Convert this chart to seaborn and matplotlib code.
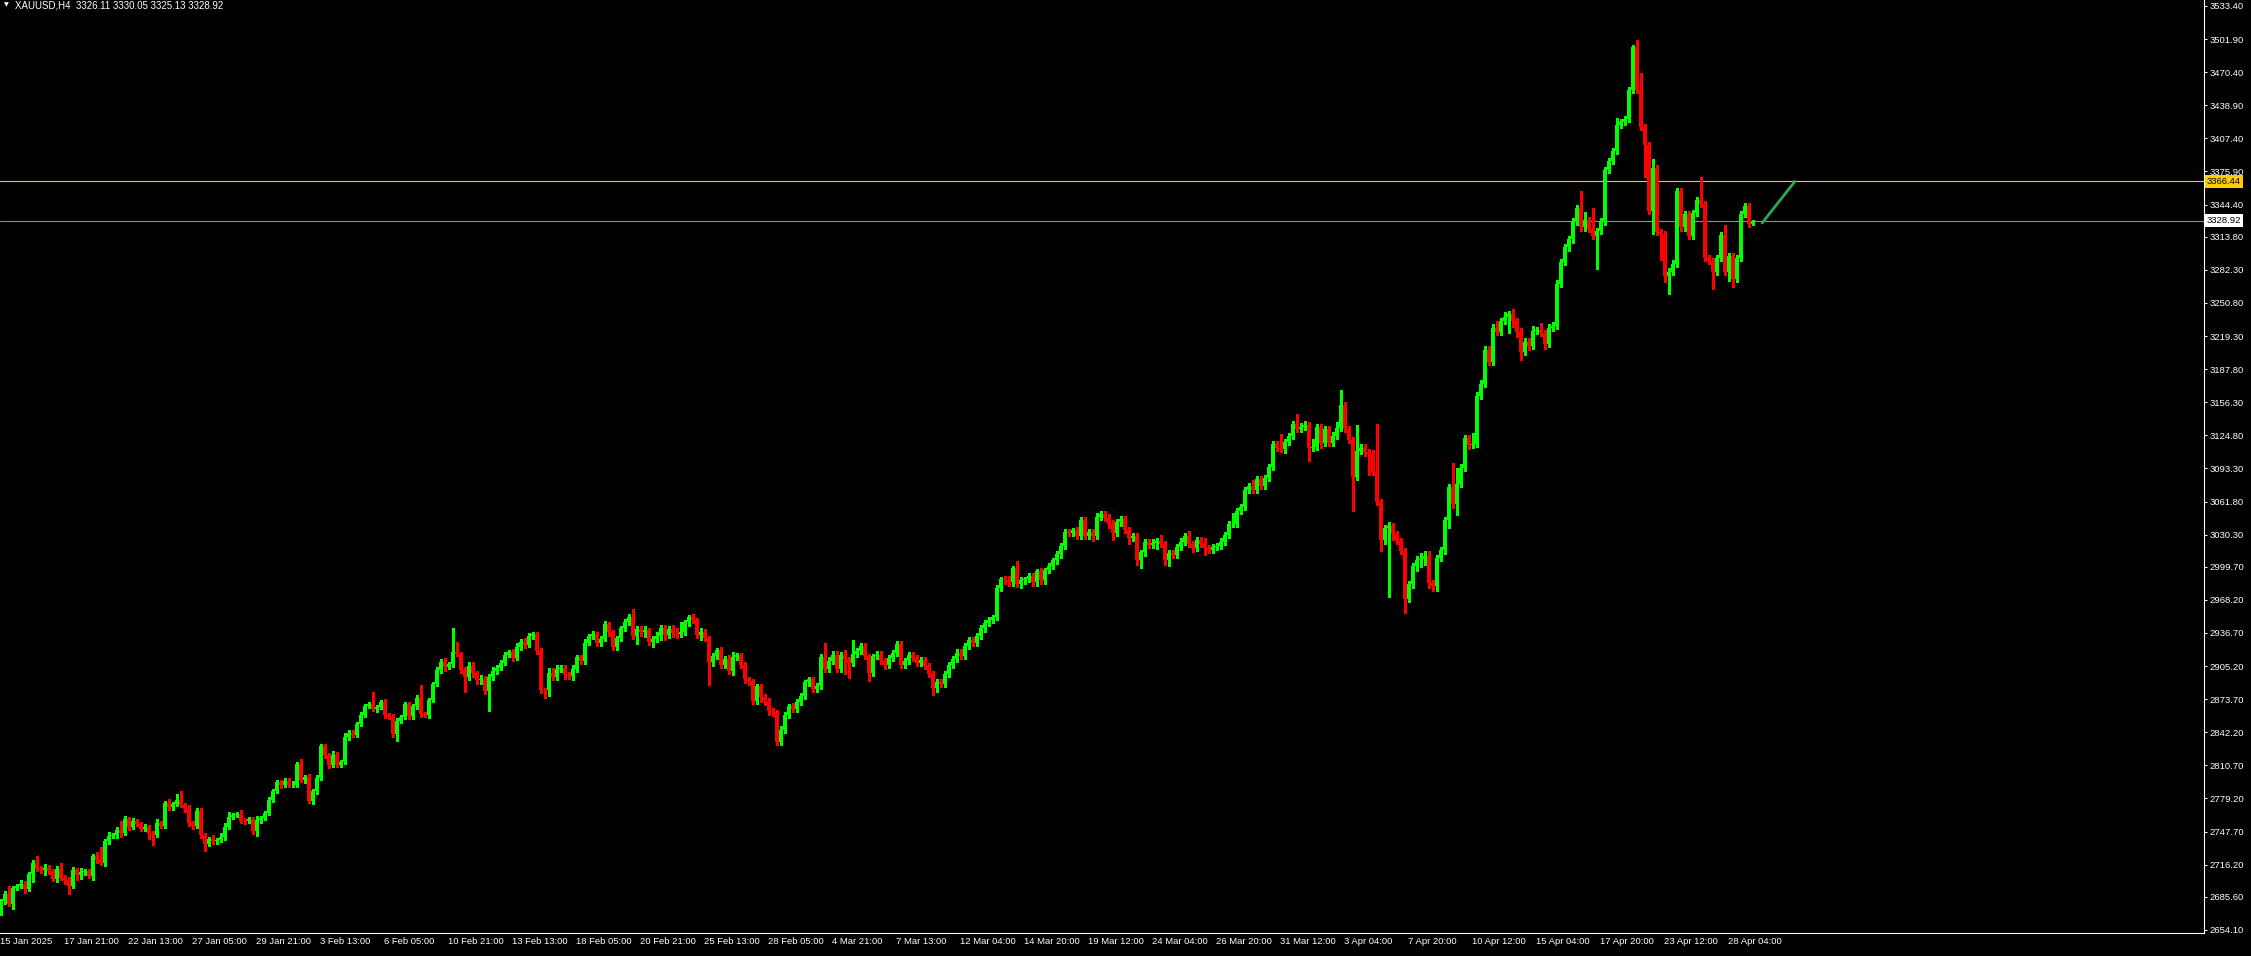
import numpy as np
import pandas as pd
import matplotlib.pyplot as plt
import seaborn as sns

# XAUUSD H4 candles (one value per bar, left to right)
symbol = "XAUUSD,H4"
last_ohlc = [3326.11, 3330.05, 3325.13, 3328.92]
first_open = 2670.9

closes = [
    2682.0, 2688.3, 2678.8, 2694.0, 2695.9, 2697.9, 2692.8, 2707.4, 2718.2, 2712.5,
    2711.0, 2713.5, 2710.0, 2702.6, 2711.8, 2704.0, 2701.7, 2696.0, 2711.0, 2706.8,
    2709.7, 2710.0, 2705.5, 2724.5, 2720.7, 2718.0, 2738.5, 2743.9, 2744.8, 2749.0,
    2746.0, 2759.4, 2752.5, 2757.5, 2755.0, 2750.5, 2752.0, 2745.5, 2744.8, 2755.6,
    2753.0, 2774.7, 2770.9, 2773.9, 2778.2, 2772.8, 2769.6, 2755.6, 2753.1, 2767.7,
    2744.8, 2735.9, 2740.4, 2738.5, 2739.8, 2742.9, 2752.5, 2762.0, 2763.3, 2764.2,
    2758.2, 2757.5, 2759.4, 2748.7, 2759.1, 2760.7, 2765.2, 2778.2, 2786.7, 2795.0,
    2791.8, 2796.3, 2791.8, 2792.5, 2812.1, 2796.9, 2799.4, 2776.6, 2786.7, 2798.8,
    2829.0, 2820.7, 2811.5, 2821.0, 2811.5, 2814.0, 2838.2, 2842.0, 2840.1, 2850.2,
    2859.1, 2867.4, 2869.3, 2864.2, 2866.0, 2870.6, 2858.5, 2857.2, 2840.7, 2852.8,
    2856.6, 2868.7, 2857.9, 2867.4, 2875.0, 2859.8, 2858.5, 2873.1, 2888.3, 2901.7,
    2909.5, 2904.0, 2907.0, 2918.2, 2916.9, 2901.5, 2895.3, 2905.7, 2898.4, 2891.5,
    2892.5, 2881.9, 2894.6, 2901.0, 2903.5, 2908.6, 2915.6, 2918.8, 2913.0, 2923.8,
    2928.6, 2925.7, 2934.3, 2935.9, 2920.0, 2882.6, 2882.0, 2899.1, 2895.3, 2902.9,
    2903.5, 2897.2, 2896.2, 2902.9, 2913.7, 2910.5, 2927.6, 2933.4, 2935.3, 2927.6,
    2931.2, 2944.8, 2937.2, 2923.2, 2932.1, 2941.0, 2947.3, 2952.4, 2934.0, 2940.3,
    2937.2, 2939.1, 2928.0, 2930.9, 2933.4, 2941.6, 2934.6, 2940.3, 2936.5, 2936.0,
    2937.8, 2946.7, 2951.8, 2948.6, 2934.6, 2937.2, 2932.1, 2908.9, 2914.9, 2920.7,
    2906.1, 2912.4, 2900.4, 2914.3, 2915.9, 2906.0, 2892.7, 2890.8, 2871.8, 2886.4,
    2875.6, 2872.4, 2862.3, 2861.5, 2832.7, 2844.8, 2858.4, 2867.3, 2864.2, 2871.1,
    2876.9, 2889.6, 2892.7, 2883.8, 2886.4, 2914.3, 2902.3, 2910.5, 2916.2, 2902.3,
    2916.2, 2911.8, 2908.0, 2916.9, 2919.4, 2924.5, 2915.0, 2898.4, 2914.9, 2916.2,
    2910.5, 2906.7, 2913.0, 2918.1, 2926.4, 2906.0, 2910.0, 2916.0, 2913.0, 2908.0,
    2911.0, 2905.0, 2898.0, 2884.0, 2890.0, 2888.0, 2898.0, 2906.0, 2912.0, 2918.0,
    2915.0, 2924.0, 2930.0, 2927.0, 2934.0, 2941.0, 2946.0, 2949.3, 2951.9, 2979.2,
    2988.1, 2986.8, 2984.9, 2998.2, 2983.6, 2986.8, 2988.1, 2990.6, 2984.9, 2995.7,
    2986.8, 2996.9, 3000.7, 3005.8, 3011.5, 3019.8, 3032.5, 3031.9, 3034.4, 3028.7,
    3043.9, 3029.3, 3032.5, 3028.7, 3047.1, 3049.6, 3046.5, 3040.8, 3031.9, 3042.0,
    3045.2, 3034.4, 3027.4, 3029.3, 3005.8, 3013.4, 3023.0, 3020.4, 3022.3, 3024.2,
    3021.7, 3005.8, 3012.8, 3010.9, 3018.5, 3023.0, 3028.7, 3021.7, 3017.9, 3024.9,
    3021.7, 3017.3, 3015.4, 3018.5, 3019.8, 3023.0, 3029.9, 3040.1, 3040.7, 3052.8,
    3056.6, 3073.1, 3076.9, 3072.5, 3083.3, 3076.3, 3084.5, 3094.7, 3116.3, 3113.1,
    3112.0, 3118.2, 3123.9, 3135.3, 3130.9, 3132.8, 3134.7, 3113.1, 3113.7, 3132.8,
    3117.6, 3130.9, 3117.6, 3123.9, 3131.5, 3153.8, 3131.0, 3120.1, 3085.2, 3109.8,
    3113.1, 3108.6, 3107.5, 3089.9, 3061.3, 3024.8, 3036.3, 3038.2, 3030.6, 3024.2,
    3014.7, 2969.0, 2982.9, 3000.1, 3005.8, 3007.0, 3010.2, 2984.2, 2981.0, 3008.3,
    3015.3, 3044.5, 3075.6, 3059.1, 3078.8, 3094.1, 3122.0, 3115.6, 3116.9, 3162.6,
    3174.1, 3206.4, 3195.0, 3227.4, 3222.9, 3233.7, 3237.5, 3240.1, 3233.7, 3223.6,
    3203.9, 3214.0, 3209.6, 3224.2, 3224.8, 3222.3, 3211.5, 3227.4, 3229.3, 3269.3,
    3289.6, 3303.6, 3311.2, 3328.4, 3341.1, 3322.6, 3329.6, 3321.4, 3314.4, 3319.5,
    3328.3, 3377.2, 3385.6, 3395.6, 3420.0, 3422.9, 3426.1, 3453.4, 3494.6, 3453.4,
    3418.4, 3401.0, 3338.0, 3379.4, 3318.4, 3316.2, 3276.2, 3280.7, 3288.3, 3357.2,
    3322.6, 3335.3, 3314.3, 3336.5, 3348.6, 3344.8, 3293.3, 3290.8, 3280.0, 3293.3,
    3315.3, 3280.0, 3295.3, 3273.7, 3293.3, 3335.3, 3342.9, 3326.11, 3328.92,
]

# wick length above the body and below the body, in dollars
wick_hi = [
    2, 3, 8, 2, 2, 4, 3, 2, 2, 6, 2, 3, 2, 2, 3, 6, 2, 3, 3, 2,
    3, 2, 2, 2, 4, 12, 2, 3, 2, 3, 9, 3, 2, 3, 2, 2, 3, 2, 3, 4,
    2, 2, 4, 2, 5, 8, 2, 3, 2, 2, 2, 2, 2, 4, 2, 3, 3, 4, 2, 2,
    4, 2, 2, 2, 3, 2, 2, 2, 2, 2, 2, 2, 2, 3, 2, 5, 2, 3, 2, 3,
    2, 2, 2, 3, 2, 2, 3, 2, 2, 2, 2, 2, 2, 11, 2, 2, 3, 2, 2, 3,
    2, 2, 2, 2, 3, 12, 2, 2, 2, 3, 2, 3, 2, 23, 10, 2, 3, 3, 3, 2,
    4, 3, 3, 3, 3, 2, 3, 2, 3, 3, 2, 3, 2, 2, 2, 2, 2, 4, 4, 3,
    3, 3, 2, 3, 2, 2, 3, 2, 3, 2, 3, 3, 2, 2, 2, 2, 3, 2, 7, 3,
    3, 4, 2, 3, 4, 3, 3, 3, 4, 5, 9, 2, 2, 3, 2, 4, 3, 2, 3, 2,
    3, 2, 3, 4, 2, 2, 3, 2, 2, 2, 2, 3, 2, 3, 2, 3, 3, 2, 3, 3,
    3, 2, 2, 2, 3, 2, 13, 3, 3, 3, 2, 4, 2, 13, 3, 3, 3, 2, 2, 3,
    3, 2, 3, 2, 3, 3, 3, 3, 3, 3, 3, 3, 3, 3, 3, 3, 3, 3, 3, 3,
    3, 3, 3, 3, 3, 3, 3, 3, 2, 3, 2, 3, 4, 2, 7, 3, 2, 3, 3, 2,
    3, 2, 3, 2, 3, 3, 3, 3, 2, 3, 3, 3, 3, 3, 4, 3, 3, 3, 3, 3,
    3, 3, 3, 3, 3, 2, 3, 3, 4, 3, 6, 3, 3, 3, 3, 4, 3, 5, 3, 3,
    3, 5, 3, 3, 3, 4, 3, 3, 10, 3, 3, 3, 3, 5, 3, 3, 3, 3, 3, 3,
    13, 3, 3, 3, 10, 4, 4, 3, 8, 3, 3, 3, 3, 4, 6, 14, 3, 3, 3, 25,
    3, 3, 3, 3, 46, 3, 3, 4, 3, 3, 3, 3, 3, 3, 4, 6, 5, 5, 3, 3,
    3, 3, 3, 23, 15, 3, 3, 3, 10, 3, 3, 3, 3, 3, 6, 3, 5, 3, 5, 3,
    3, 3, 3, 5, 3, 7, 3, 3, 3, 3, 3, 3, 3, 3, 3, 16, 8, 3, 20, 3,
    3, 3, 3, 3, 7, 3, 3, 3, 2, 6, 16, 3, 3, 8, 3, 3, 3, 3, 3, 3,
    3, 3, 3, 3, 3, 22, 3, 3, 3, 3, 3, 10, 3, 3, 3, 3, 3, 3, 1.1,
]
wick_lo = [
    3, 3, 2, 5, 2, 2, 4, 2, 8, 2, 3, 5, 3, 2, 3, 2, 4, 8, 2, 5,
    4, 3, 2, 4, 3, 2, 3, 3, 2, 3, 3, 2, 3, 2, 2, 2, 2, 5, 10, 2,
    2, 2, 3, 3, 2, 2, 3, 3, 3, 2, 3, 7, 2, 3, 3, 2, 3, 2, 2, 2,
    2, 3, 2, 3, 5, 3, 2, 2, 2, 2, 3, 2, 2, 2, 2, 2, 3, 2, 3, 3,
    2, 3, 3, 2, 2, 2, 2, 3, 2, 2, 2, 2, 2, 2, 3, 2, 3, 2, 3, 7,
    2, 2, 3, 3, 3, 3, 2, 3, 2, 2, 3, 3, 2, 3, 2, 3, 15, 3, 4, 3,
    3, 3, 19, 3, 3, 2, 2, 2, 3, 2, 3, 3, 2, 3, 3, 3, 7, 5, 3, 3,
    3, 4, 3, 4, 3, 3, 3, 2, 2, 3, 3, 2, 3, 3, 3, 3, 2, 3, 3, 8,
    3, 4, 3, 5, 3, 3, 5, 3, 4, 4, 3, 3, 3, 2, 3, 5, 3, 22, 4, 3,
    3, 3, 3, 4, 3, 3, 4, 4, 3, 3, 5, 4, 4, 4, 3, 3, 3, 3, 3, 3,
    3, 3, 3, 3, 3, 3, 3, 3, 3, 3, 3, 14, 14, 3, 3, 3, 3, 7, 3, 3,
    3, 4, 3, 3, 3, 3, 3, 3, 3, 3, 3, 3, 3, 6, 3, 3, 3, 3, 3, 3,
    3, 3, 3, 3, 3, 3, 3, 3, 3, 3, 3, 3, 3, 3, 3, 4, 3, 3, 3, 3,
    3, 3, 3, 3, 3, 3, 3, 3, 3, 3, 3, 3, 3, 4, 3, 3, 3, 4, 7, 3,
    3, 3, 6, 3, 4, 7, 3, 3, 3, 6, 3, 4, 5, 3, 3, 3, 3, 3, 4, 3,
    3, 6, 3, 3, 3, 3, 3, 3, 3, 3, 3, 3, 3, 3, 3, 3, 3, 3, 3, 3,
    3, 4, 3, 3, 3, 3, 3, 13, 3, 3, 5, 3, 3, 3, 3, 3, 3, 3, 32, 3,
    3, 3, 20, 3, 3, 10, 3, 65, 5, 3, 3, 13, 3, 3, 4, 6, 6, 5, 4, 4,
    3, 3, 8, 3, 10, 3, 3, 4, 3, 3, 3, 3, 3, 3, 3, 3, 3, 15, 6, 5,
    7, 3, 4, 3, 3, 3, 5, 3, 3, 3, 3, 3, 3, 3, 3, 3, 3, 3, 3, 31,
    3, 3, 3, 3, 3, 3, 3, 3, 3, 3, 3, 30, 3, 22, 3, 25, 5, 17, 3, 3,
    3, 3, 3, 3, 3, 3, 3, 3, 16, 3, 3, 3, 8, 8, 3, 3, 3, 3, 1.0,
]

price_labels = [
    "3533.40", "3501.90", "3470.40", "3438.90", "3407.40", "3375.90", "3344.40",
    "3313.80", "3282.30", "3250.80", "3219.30", "3187.80", "3156.30", "3124.80",
    "3093.30", "3061.80", "3030.30", "2999.70", "2968.20", "2936.70", "2905.20",
    "2873.70", "2842.20", "2810.70", "2779.20", "2747.70", "2716.20", "2685.60",
    "2654.10",
]
date_labels = [
    "15 Jan 2025", "17 Jan 21:00", "22 Jan 13:00", "27 Jan 05:00", "29 Jan 21:00",
    "3 Feb 13:00", "6 Feb 05:00", "10 Feb 21:00", "13 Feb 13:00", "18 Feb 05:00",
    "20 Feb 21:00", "25 Feb 13:00", "28 Feb 05:00", "4 Mar 21:00", "7 Mar 13:00",
    "12 Mar 04:00", "14 Mar 20:00", "19 Mar 12:00", "24 Mar 04:00", "26 Mar 20:00",
    "31 Mar 12:00", "3 Apr 04:00", "7 Apr 20:00", "10 Apr 12:00", "15 Apr 04:00",
    "17 Apr 20:00", "23 Apr 12:00", "28 Apr 04:00",
]
bars_per_label = 16
resistance = 3366.44
trend_bar = [440.4, 448.6]
trend_price = [3326.9, 3366.4]

sns.set_theme(style="dark")
plt.rcParams['font.family'] = ['Liberation Sans', 'DejaVu Sans']

df = pd.DataFrame({'close': closes, 'up': wick_hi, 'dn': wick_lo})
df['open'] = [first_open] + closes[:-1]
df['top'] = df[['open', 'close']].max(axis=1)
df['bot'] = df[['open', 'close']].min(axis=1)
df['high'] = df['top'] + df['up']
df['low'] = df['bot'] - df['dn']
df['bar'] = np.arange(len(df))
colors = np.where(df['close'] >= df['open'], '#00FF00', '#FF0000')

W, H = 2251, 956
fig = plt.figure(figsize=(W / 100, H / 100), dpi=100, facecolor='black')
ax = fig.add_axes([0, 23 / H, 2204 / W, 933 / H])
ax.set_facecolor('black')

ax.axhline(resistance, color='#FFCC00', lw=0.8, zorder=1)
ax.axhline(last_ohlc[3], color='#8C9096', lw=0.8, zorder=1)

ax.vlines(df['bar'], df['low'], df['high'], colors=colors, lw=0.75,
          antialiased=False, zorder=2)
body = (df['top'] - df['bot']).clip(lower=0.6)
ax.bar(df['bar'], body, bottom=df['bot'], width=0.75, color=colors,
       linewidth=0, antialiased=False, zorder=3)

sns.lineplot(x=trend_bar, y=trend_price, ax=ax, color='#2DA84E', lw=2.0, zorder=4)

ax.set_xlim(-0.125, 550.875)
ax.set_ylim(2651.2, 3539.1)
ax.set_xlabel('')
ax.set_ylabel('')
ax.grid(False)

ax.yaxis.tick_right()
ax.set_yticks([float(p) for p in price_labels])
ax.set_yticklabels(price_labels)
ax.set_xticks([bars_per_label * k for k in range(len(date_labels))])
ax.set_xticklabels(date_labels)
for lbl in ax.get_xticklabels():
    lbl.set_ha('left')
ax.tick_params(axis='both', direction='out', length=2.2, width=0.75,
               colors='white', labelsize=6.8)
ax.tick_params(axis='y', pad=1.6)
ax.tick_params(axis='x', pad=1.0)

for side in ['top', 'left']:
    ax.spines[side].set_visible(False)
for side in ['right', 'bottom']:
    ax.spines[side].set_color('white')
    ax.spines[side].set_linewidth(0.8)

for price, fc in [(resistance, '#FFCC00'), (last_ohlc[3], 'white')]:
    ax.annotate(f"{price:.2f}", xy=(1, price), xycoords=('axes fraction', 'data'),
                xytext=(2.2, 0), textcoords='offset points', ha='left', va='center',
                fontsize=6.8, color='black', annotation_clip=False,
                bbox=dict(boxstyle='square,pad=0.2', fc=fc, ec='none'))

fig.text(4 / W, 1 - 5 / H, '▼', fontsize=4.5, color='white', va='center', ha='left',
         family=['DejaVu Sans'])
header = symbol + "  " + " ".join(f"{v:.2f}" for v in last_ohlc)
fig.text(15 / W, 1 - 5.5 / H, header, fontsize=7, color='white', va='center', ha='left')

fig.savefig('out.png', dpi=100, facecolor='black')
